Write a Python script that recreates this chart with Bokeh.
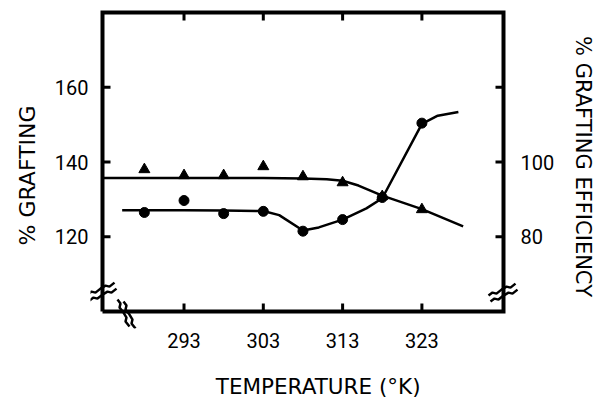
from bokeh.plotting import figure
from bokeh.models import Range1d, LinearAxis, FixedTicker, Title
from bokeh.embed import file_html
from bokeh.resources import INLINE

# ---- data ----
temps = [288, 293, 298, 303, 308, 313, 318, 323]
grafting = [126.5, 129.7, 126.2, 126.8, 121.5, 124.6, 130.5, 150.4]      # % grafting (left axis)
efficiency = [98.0, 96.4, 96.4, 98.8, 96.1, 94.5, 90.8, 87.3]           # % grafting efficiency (right axis)

graft_curve_t = [285.2, 288, 293, 298, 303, 305, 308, 310, 313, 316, 318, 323, 325, 327.6]
graft_curve_v = [127.1, 127.1, 127.1, 127.0, 126.9, 125.8, 121.7, 122.5, 124.6, 127.6, 130.3, 150.2, 152.4, 153.4]

eff_curve_t = [282.72, 293, 303, 308, 311, 313, 315, 318, 323, 328.2]
eff_curve_v = [95.7, 95.7, 95.7, 95.6, 95.4, 95.0, 93.7, 91.0, 87.4, 82.8]

x_ticks = [293, 303, 313, 323]
left_ticks = [120, 140, 160]
right_ticks = [80, 100, 120]
right_labels = {80: "80", 100: "100", 120: ""}

# box (axis frame of the original drawing) in data units
X0, X1 = 282.72, 333.29
Y0, Y1 = 100, 180
R0, R1 = 60, 140
# pixel scale of the drawing
PX, PY = 7.93, 3.75
# extra room round the box so that break marks may cross its edges (pixels)
ML, MR, MT, MB = 12, 15, 8, 17

TICK_FONT = "Roboto"
TITLE_FONT = "DejaVu Sans"

p = figure(width=602, height=401, output_backend="svg", toolbar_location=None,
           x_range=Range1d(X0 - ML / PX, X1 + MR / PX),
           y_range=Range1d(Y0 - MB / PY, Y1 + MT / PY),
           min_border_left=90, min_border_right=84, min_border_top=4, min_border_bottom=72)
p.extra_y_ranges = {"eff": Range1d(R0 - MB / PY, R1 + MT / PY)}
p.grid.visible = False
p.outline_line_color = None
p.background_fill_color = "white"
p.border_fill_color = "white"


def style_axis(ax, ticks, size):
    ax.ticker = FixedTicker(ticks=ticks)
    ax.axis_line_color = None
    ax.major_tick_line_color = None
    ax.minor_tick_line_color = None
    ax.major_tick_in = 0
    ax.major_tick_out = 0
    ax.major_label_standoff = 2
    ax.major_label_text_font = TICK_FONT
    ax.major_label_text_font_size = "20px"
    ax.major_label_text_color = "black"
    ax.axis_label_text_font = TITLE_FONT
    ax.axis_label_text_font_size = size
    ax.axis_label_text_font_style = "normal"
    ax.axis_label_text_color = "black"


xa = p.xaxis[0]
style_axis(xa, x_ticks, "21.5px")
xa.major_label_standoff = 4
xa.axis_label = "\u00a0\u00a0\u00a0\u00a0TEMPERATURE (\u00b0K)"
xa.axis_label_standoff = 23

ya = p.yaxis[0]
style_axis(ya, left_ticks, "22px")

ra = LinearAxis(y_range_name="eff")
style_axis(ra, right_ticks, "21px")
ra.major_label_overrides = right_labels
ra.axis_label = "% GRAFTING EFFICIENCY"
ra.axis_label_standoff = 14
p.add_layout(ra, "right")

p.add_layout(Title(text="% GRAFTING", align="left", offset=83, standoff=24,
                   text_font=TITLE_FONT, text_font_size="22px", text_font_style="normal",
                   text_color="black"), "left")

# the box
p.line([X0, X1, X1, X0, X0], [Y0, Y0, Y1, Y1, Y0], line_color="black", line_width=4,
       line_join="miter")

# inward ticks drawn as thin filled bars (8 px long, 3 px thick)
TL, TW = 8, 3
qx_l = [t - TW / 2 / PX for t in x_ticks] * 2 + [X0] * len(left_ticks)
qx_r = [t + TW / 2 / PX for t in x_ticks] * 2 + [X0 + TL / PX] * len(left_ticks)
qy_b = ([Y0] * len(x_ticks) + [Y1 - TL / PY] * len(x_ticks)
        + [v - TW / 2 / PY for v in left_ticks])
qy_t = ([Y0 + TL / PY] * len(x_ticks) + [Y1] * len(x_ticks)
        + [v + TW / 2 / PY for v in left_ticks])
p.quad(left=qx_l, right=qx_r, bottom=qy_b, top=qy_t, fill_color="black", line_color=None)
p.quad(left=[X1 - TL / PX] * len(right_ticks), right=[X1] * len(right_ticks),
       bottom=[v - TW / 2 / PY for v in right_ticks], top=[v + TW / 2 / PY for v in right_ticks],
       fill_color="black", line_color=None, y_range_name="eff")

# fitted curves
p.line(graft_curve_t, graft_curve_v, line_color="black", line_width=2.5)
p.line(eff_curve_t, eff_curve_v, line_color="black", line_width=2.5, y_range_name="eff")

# data markers
p.scatter(temps, grafting, marker="circle", size=10, fill_color="black", line_color="black")
p.scatter(temps, efficiency, marker="triangle", size=11, fill_color="black", line_color="black",
          y_range_name="eff")

# axis break marks (decoration): two wavy strokes, pixel offsets
wave = [(-14, 6), (-10, 3), (-6, 4), (-1, 0), (4, -3), (8, -2), (13, -6)]
wave_v = [(-b, a) for a, b in wave]


def brk(cx, cy, shape, shifts):
    xs, ys = [], []
    for sx, sy in shifts:
        xs.append([cx + (a + sx) / PX for a, b in shape])
        ys.append([cy - (b + sy) / PY for a, b in shape])
    return xs, ys


bxs, bys = [], []
for cx, cy, shape, shifts in [
    (X0, Y0 + 20 / PY, wave, [(-1, -3), (1, 3)]),
    (X1, Y0 + 19 / PY, wave, [(-1, -3), (1, 3)]),
    (X0 + 24 / PX, Y0 - 3 / PY, wave_v, [(-3, -1), (3, 1)]),
]:
    xs, ys = brk(cx, cy, shape, shifts)
    bxs += xs
    bys += ys
p.multi_line(bxs, bys, line_color="black", line_width=2.5)

open("out.html", "w").write(file_html(p, INLINE))
